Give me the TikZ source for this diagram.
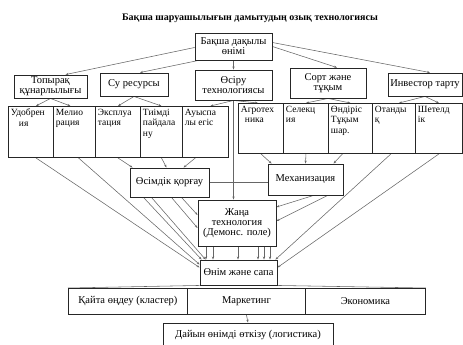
\documentclass[tikz,border=0pt]{standalone}
\usepackage{fontspec}
\setmainfont{Liberation Serif}
\usetikzlibrary{arrows.meta,backgrounds}
\newcommand{\ct}[3]{\parbox[t][#2][t]{#1}{\raggedright #3}}
\begin{document}
\begin{tikzpicture}[x=1pt,y=-1pt,
  box/.style={draw=black!85, line width=0.9pt, fill=white, inner sep=1pt, align=center,
    font=\fontsize{10.5}{10}\selectfont},
  cell/.style={draw=black!85, line width=0.9pt, fill=white, inner sep=2.5pt, anchor=north west,
    font=\fontsize{9.5}{10.5}\selectfont},
  rowcell/.style={box, anchor=north west, minimum height=26pt},
  conn/.style={draw=black!60, line width=0.55pt},
  arr/.style={conn, -{Stealth[length=3pt,width=2.2pt]}}]
\useasboundingbox (0,0) rectangle (463,345);

% title
\node[font=\bfseries\fontsize{10}{11}\selectfont] (title) at (250,18)
  {Бақша шаруашылығын дамытудың озық технологиясы};

% top
\node[box, minimum width=77pt, minimum height=27pt] (top) at (233.5,46.5) {Бақша дақылы\\өнімі};

% row 2
\node[box, minimum width=73pt, minimum height=23pt] (t1) at (50.5,86.5) {Топырақ\\құнарлылығы};
\node[box, minimum width=68pt, minimum height=23pt] (t2) at (134,84.5) {Су ресурсы};
\node[box, minimum width=77pt, minimum height=30pt] (t3) at (233.5,85) {Өсіру\\технологиясы};
\node[box, minimum width=76pt, minimum height=30pt] (t4) at (328,83) {Сорт және\\тұқым};
\node[box, minimum width=74pt, minimum height=23pt] (t5) at (425,84.5) {Инвестор тарту};

% row 3 left
\node[cell] (a1) at (8,106)   {\ct{40pt}{46pt}{Удобрен\\\hspace*{8pt}ия}};
\node[cell] (a2) at (53,106)  {\ct{37pt}{46pt}{Мелио\\рация}};
\node[cell] (a3) at (95,106)  {\ct{40pt}{46pt}{Эксплуа\\тация}};
\node[cell] (a4) at (140,106) {\ct{37pt}{46pt}{Тиімді\\пайдала\\ну}};
\node[cell] (a5) at (182,106) {\ct{41pt}{46pt}{Ауыспа\\лы егіс}};

% row 3 right
\node[cell] (b1) at (238,103) {\ct{40pt}{45pt}{Агротех\\\hspace*{4pt}ника}};
\node[cell] (b2) at (283,103) {\ct{40pt}{45pt}{Селекц\\ия}};
\node[cell] (b3) at (328,103) {\ct{39pt}{45pt}{Өндіріс\\Тұқым\\шар.}};
\node[cell] (b4) at (372,103) {\ct{38pt}{45pt}{Отанды\\қ}};
\node[cell] (b5) at (415,103) {\ct{42pt}{45pt}{Шетелд\\ік}};

% middle
\node[box, minimum width=79pt, minimum height=29pt] (ok) at (169.5,182.5) {Өсімдік қорғау};
\node[box, minimum width=75pt, minimum height=31pt] (mech) at (305.5,179.5) {Механизация};
\node[box, minimum width=78pt, minimum height=46pt] (new) at (237,223) {Жаңа\\технология\\(Демонс. поле)};
\node[box, minimum width=77pt, minimum height=25pt] (prod) at (238.5,272.5) {Өнім және сапа};

% bottom row
\node[rowcell, minimum width=119pt] (c1) at (68,288) {Қайта өңдеу (кластер)};
\node[rowcell, minimum width=118pt] (c2) at (187,288) {Маркетинг};
\node[rowcell, minimum width=120pt] (c3) at (305,288) {Экономика};
\node[box, minimum width=170pt, minimum height=24pt] (fin) at (248,335) {Дайын өнімді өткізу (логистика)};

\begin{scope}[on background layer]
% top to row 2
\draw[arr] ([yshift=-1pt]top.west) -- ([xshift=15pt]t1.north);
\draw[arr] ([xshift=-35pt]top.south) -- ([xshift=6pt]t2.north);
\draw[arr] (top.south) -- (t3.north);
\draw[arr] (top.east) -- ([xshift=9pt]t4.north);
\draw[arr] ([yshift=4pt]top.east) -- ([xshift=5pt]t5.north);
% row 2 to row 3
\draw[arr] (t1.south) -- ([xshift=5pt]a1.north);
\draw[arr] (t1.south) -- ([xshift=-4pt]a2.north);
\draw[arr] (t2.south) -- (a3.north);
\draw[arr] (t2.south) -- (a4.north);
\draw[arr] (t3.south) -- ([xshift=5pt]a5.north);
\draw[arr] (t3.south) -- ([xshift=-3pt]b1.north);
\draw[arr] (t4.south) -- (b2.north);
\draw[arr] (t4.south) -- (b3.north);
\draw[arr] (t5.south) -- ([xshift=5pt]b4.north);
\draw[arr] (t5.south) -- (b5.north);
\draw[arr] (t3.south) -- (t3.south |- new.north);
% row 3 to protection / mechanisation
\draw[arr] (a3.south) -- ([xshift=3pt]ok.north west);
\draw[arr] (a4.south) -- ([xshift=-3pt]ok.north);
\draw[arr] ([xshift=-10pt]a5.south) -- ([xshift=14pt]ok.north);
\draw[arr] (b1.south) -- ([xshift=4pt]mech.north west);
\draw[arr] (b2.south) -- (mech.north);
\draw[arr] ([xshift=-8pt]b3.south) -- ([xshift=28pt]mech.north);
\draw[conn] (ok.east) -- (ok.east -| mech.west);
% fan to new technology / product
\draw[arr] ([xshift=5pt]a1.south) -- ([yshift=5pt]prod.west);
\draw[arr] ([xshift=4pt]a2.south) -- ([yshift=8pt]prod.west);
\draw[arr] ([xshift=-26pt]ok.south) -- ([xshift=2pt]prod.north west);
\draw[arr] ([xshift=-18pt]ok.south) -- ([xshift=6pt]prod.north west);
\draw[arr] ([xshift=2pt]ok.south) -- ([yshift=-5pt]new.west);
\draw[arr] ([xshift=12pt]ok.south) -- ([yshift=8pt]new.west);
\draw[arr] ([xshift=8pt]mech.south) -- ([yshift=16pt]new.east);
\draw[arr] ([xshift=22pt]mech.south) -- ([yshift=2pt]new.east);
\draw[arr] ([xshift=-3pt]b4.south) -- ([xshift=-2pt]prod.north east);
\draw[arr] (b5.south) -- ([yshift=5pt]prod.east);
\foreach \dx in {-31,-24,1,21,27,33}
  \draw[arr] ([xshift=\dx pt]new.south) -- ([xshift=\dx pt]new.south |- prod.north);
% product to bottom row
\draw[conn] (prod.south west) -- (c1.north west);
\draw[conn] (prod.south east) -- (c3.north east);
\draw[arr] (c2.south) -- (fin.north);
\end{scope}
\end{tikzpicture}
\end{document}
